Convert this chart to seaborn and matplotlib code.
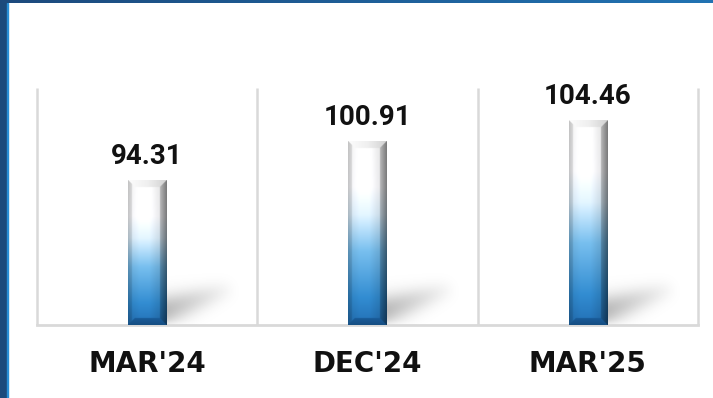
import numpy as np
import matplotlib
matplotlib.use("Agg")
import matplotlib.pyplot as plt
import seaborn as sns
from matplotlib.patches import Rectangle

# Quarter-end values
periods = ["MAR'24", "DEC'24", "MAR'25"]
values = [94.31, 100.91, 104.46]

sns.set_theme(style="white")
plt.rcParams["font.family"] = ["Roboto", "DejaVu Sans"]

W_PX, H_PX = 713, 398
fig = plt.figure(figsize=(W_PX / 100, H_PX / 100), dpi=100)
fig.patch.set_facecolor("white")
ax = fig.add_axes([37 / W_PX, 73 / H_PX, 661 / W_PX, 237 / H_PX])
ax.set_facecolor("white")

sns.barplot(x=periods, y=values, width=0.175, color="#2b82c4", ax=ax, zorder=3)
ax.set_xlim(-0.5, 2.5)
ax.set_ylim(70, 110)


def box_blur(a, r, passes=3):
    k = np.ones(2 * r + 1) / (2 * r + 1)
    for _ in range(passes):
        a = np.apply_along_axis(lambda m: np.convolve(m, k, mode="same"), 0, a)
        a = np.apply_along_axis(lambda m: np.convolve(m, k, mode="same"), 1, a)
    return a


def bar_texture(wp, hp, s=3):
    nx, ny = max(int(round(wp * s)), 2), max(int(round(hp * s)), 2)
    xs = (np.arange(nx) + 0.5) / s
    ys = (np.arange(ny) + 0.5) / s
    X, Y = np.meshgrid(xs, ys)
    u, v = X / wp, Y / hp
    vs = [0.0, 0.15, 0.40, 0.60, 0.75, 1.0]
    cs = np.array([[0.13, 0.42, 0.68], [0.19, 0.53, 0.79], [0.45, 0.72, 0.90],
                   [0.86, 0.93, 0.98], [0.99, 0.99, 1.0], [0.98, 0.98, 0.98]])
    col = np.stack([np.interp(v, vs, cs[:, c]) for c in range(3)], axis=-1)
    hf = np.interp(u, [0, 0.12, 0.3, 0.55, 0.75, 1], [0.86, 0.98, 1.04, 1.04, 0.95, 0.88])
    col = col * hf[..., None]
    b = 7.0
    dt, dl, dr, db = hp - Y, X, wp - X, Y
    right = (dr < b) & (dr < dt) & (dr < db)
    col[right] *= (0.55 + 0.25 * (dr[right] / b))[:, None]
    left = (dl < 4) & (dl < dt) & (dl < db)
    col[left] *= 0.9
    top = (dt < b) & (dt <= dl) & (dt <= dr)
    g = np.interp(u[top], [0, 0.5, 1], [0.99, 0.94, 0.82])
    col[top] = g[:, None]
    bot = (db < b) & (db <= dl) & (db <= dr)
    col[bot] = np.array([0.10, 0.36, 0.60]) * (0.85 + 0.15 * db[bot] / b)[:, None]
    return np.clip(col, 0, 1)


def shadow_alpha(wp, m=12):
    # soft streak cast from the foot of the bar, rising to the right
    gx = np.arange(-m, wp + 75 + m) + 0.5
    gy = np.arange(0, 48 + m) + 0.5
    GX, GY = np.meshgrid(gx, gy)
    ax_, ay_ = wp - 10.0, 12.0
    bx_, by_ = wp + 68.0, 38.0
    L = np.hypot(bx_ - ax_, by_ - ay_)
    ux, uy = (bx_ - ax_) / L, (by_ - ay_) / L
    s = ((GX - ax_) * ux + (GY - ay_) * uy) / L
    d = np.abs(-(GX - ax_) * uy + (GY - ay_) * ux)
    half = 15 - 8 * np.clip(s, 0, 1)
    inten = np.where((s >= 0) & (s <= 1), (1 - np.clip(s, 0, 1)) ** 0.9, 0.0)
    inten = inten * np.exp(-(d / half) ** 2) * 0.72
    inten = box_blur(inten, 4)
    return np.clip(inten, 0, 1), gx[0] - 0.5, gx[-1] + 0.5, gy[-1] + 0.5


inv = ax.transData.inverted()
ybase = ax.get_ylim()[0]
for p in ax.patches:
    x0, w, top = p.get_x(), p.get_width(), p.get_height()
    (px0, py0) = ax.transData.transform((x0, ybase))
    (px1, py1) = ax.transData.transform((x0 + w, top))
    wp, hp = px1 - px0, py1 - py0
    ax.imshow(bar_texture(wp, hp), origin="lower", extent=(x0, x0 + w, ybase, top),
              aspect="auto", interpolation="bilinear", zorder=4)
    p.set_facecolor("none")
    p.set_linewidth(0)

    alpha, gx0, gx1, gy1 = shadow_alpha(wp)
    rgba = np.zeros(alpha.shape + (4,))
    rgba[..., :3] = 0.55
    rgba[..., 3] = alpha
    (ex0, ey0) = inv.transform((px0 + gx0, py0))
    (ex1, ey1) = inv.transform((px0 + gx1, py0 + gy1))
    ax.imshow(rgba, origin="lower", extent=(ex0, ex1, ey0, ey1), aspect="auto",
              interpolation="bilinear", zorder=2)

ax.set_xlim(-0.5, 2.5)
ax.set_ylim(70, 110)

ax.bar_label(ax.containers[0], labels=[f"{v:.2f}" for v in values], padding=8,
             fontsize=20, fontweight="bold", color="#111111", family="Roboto", zorder=6)

ax.vlines([-0.5, 0.5, 1.5, 2.5], 70, 110, colors="#d9d9d9", lw=1.8, zorder=1, clip_on=False)
for side in ["left", "top", "right"]:
    ax.spines[side].set_visible(False)
ax.spines["bottom"].set_color("#d9d9d9")
ax.spines["bottom"].set_linewidth(2)
ax.set_yticks([])
ax.set_ylabel("")
ax.set_xlabel("")
ax.set_xticks(range(len(periods)))
ax.set_xticklabels(periods, fontsize=20, fontweight="bold", family="DejaVu Sans",
                   color="#111111")
ax.tick_params(axis="x", length=0, pad=18)

# frame bands on the left and top edges
fig.add_artist(Rectangle((0, 0), 7 / W_PX, 1, transform=fig.transFigure,
                         color="#1b4a7c", zorder=10))
fig.add_artist(Rectangle((6.5 / W_PX, 0), 1.2 / W_PX, 1 - 3 / H_PX,
                         transform=fig.transFigure, color="#2a8fd6", zorder=10))
band = fig.add_axes([0, 1 - 3 / H_PX, 1, 3 / H_PX], zorder=11)
grad = np.linspace(0, 1, 256)
band_cols = np.stack([np.interp(grad, [0, 1], [0.11, 0.13]),
                      np.interp(grad, [0, 1], [0.29, 0.45]),
                      np.interp(grad, [0, 1], [0.49, 0.70])], axis=-1)[None, :, :]
band.imshow(band_cols, aspect="auto", extent=(0, 1, 0, 1))
band.set_axis_off()

fig.savefig("out.png", dpi=100, facecolor="white")
